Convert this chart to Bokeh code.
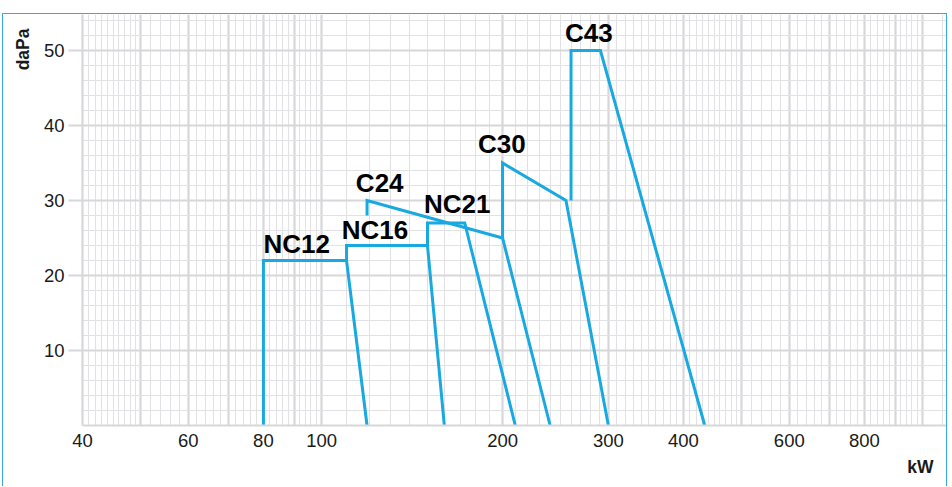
from bokeh.plotting import figure
from bokeh.models import Range1d, FixedTicker, Title, NumeralTickFormatter
from bokeh.embed import file_html
from bokeh.resources import INLINE
from bokeh.core.properties import value

# ---------------- data ----------------
x_ticks = [40, 60, 80, 100, 200, 300, 400, 600, 800]
y_ticks = [10, 20, 30, 40, 50]

nc12_x = [80, 80, 110, 119]
nc12_y = [0, 22, 22, 0]

nc16_x = [110, 110, 150, 160]
nc16_y = [22, 24, 24, 0]

nc21_x = [150, 150, 173, 210]
nc21_y = [24, 27, 27, 0]

c24_x = [119, 119, 200, 240]
c24_y = [28, 30, 25, 0]

c30_x = [200, 200, 255, 300]
c30_y = [25, 35, 30, 0]

c43_x = [260, 260, 291, 434]
c43_y = [30, 50, 50, 0]

series_names = ["NC12", "NC16", "C24", "NC21", "C30", "C43"]
label_x = [80, 108, 114, 148, 182, 254]
label_y = [24.2, 26.1, 32.3, 29.5, 37.5, 52.4]

# graph-paper grid values
x_major_grid = [40, 50, 60, 70, 80, 90, 100, 200, 300, 400, 500, 600, 700, 800, 900, 1000]
x_minor_grid = (list(range(41, 50)) +
                [v for v in range(52, 100, 2) if v % 10] +
                [v for v in range(110, 500, 10) if v % 100] +
                [v for v in range(520, 1000, 20) if v % 100] +
                [1080])
y_major_grid = [0, 10, 20, 30, 40, 50]
y_minor_grid = [v for v in range(2, 56, 2) if v % 10]

# ---------------- styling ----------------
BLUE = "#19a9e1"
GRID_MAJOR = "#d7d7da"
GRID_MINOR = "#e2e2e4"
FONT = "Liberation Sans"
TEXT = "#1a1a1a"

p = figure(width=945, height=473, x_axis_type="log",
           x_range=Range1d(40, 1100), y_range=Range1d(0, 54.8),
           output_backend="svg", toolbar_location=None,
           min_border_left=79, min_border_right=1, min_border_top=0, min_border_bottom=62)
p.margin = (13, 0, 0, 2)
p.styles = {"border-top": "1px solid #36aadd",
            "border-left": "1px solid #36aadd",
            "border-right": "1px solid #36aadd"}
p.outline_line_color = None
p.background_fill_color = "white"
p.border_fill_color = "white"

# grids
p.xgrid.ticker = FixedTicker(ticks=x_major_grid, minor_ticks=x_minor_grid)
p.ygrid.ticker = FixedTicker(ticks=y_major_grid, minor_ticks=y_minor_grid)
for g in (p.xgrid, p.ygrid):
    g.grid_line_color = GRID_MAJOR
    g.grid_line_width = 2.2
    g.minor_grid_line_color = GRID_MINOR
    g.minor_grid_line_width = 1.1

# axes
p.xaxis.ticker = FixedTicker(ticks=x_ticks)
p.xaxis.formatter = NumeralTickFormatter(format="0")
p.yaxis.ticker = FixedTicker(ticks=y_ticks)
for ax in (p.xaxis, p.yaxis):
    ax.axis_line_color = GRID_MAJOR
    ax.axis_line_width = 2.2
    ax.minor_tick_line_color = None
    ax.major_label_text_font = FONT
    ax.major_label_text_font_size = "18.5px"
    ax.major_label_text_color = TEXT
p.xaxis.major_tick_line_color = None
p.xaxis.major_tick_out = 0
p.xaxis.major_tick_in = 0
p.xaxis.major_label_standoff = 8
p.yaxis.major_tick_line_color = GRID_MAJOR
p.yaxis.major_tick_line_width = 2.2
p.yaxis.major_tick_out = 14
p.yaxis.major_tick_in = 0
p.yaxis.major_label_standoff = 4

# series lines
for xs, ys in [(nc12_x, nc12_y), (nc16_x, nc16_y), (nc21_x, nc21_y),
               (c24_x, c24_y), (c30_x, c30_y), (c43_x, c43_y)]:
    p.line(xs, ys, line_color=BLUE, line_width=3, line_join="miter")

# series labels
p.text(x=label_x, y=label_y, text=series_names,
       text_font=value(FONT), text_font_style="bold", text_font_size="26px",
       text_color="black", text_align="left", text_baseline="alphabetic")

# axis titles
p.add_layout(Title(text="daPa", align="right", offset=14, standoff=15,
                   text_font=FONT, text_font_style="bold", text_font_size="17.5px",
                   text_color=TEXT), "left")
p.add_layout(Title(text="kW", align="right", offset=14, standoff=10,
                   text_font=FONT, text_font_style="bold", text_font_size="17.5px",
                   text_color=TEXT), "below")

open("out.html", "w").write(file_html(p, INLINE))
